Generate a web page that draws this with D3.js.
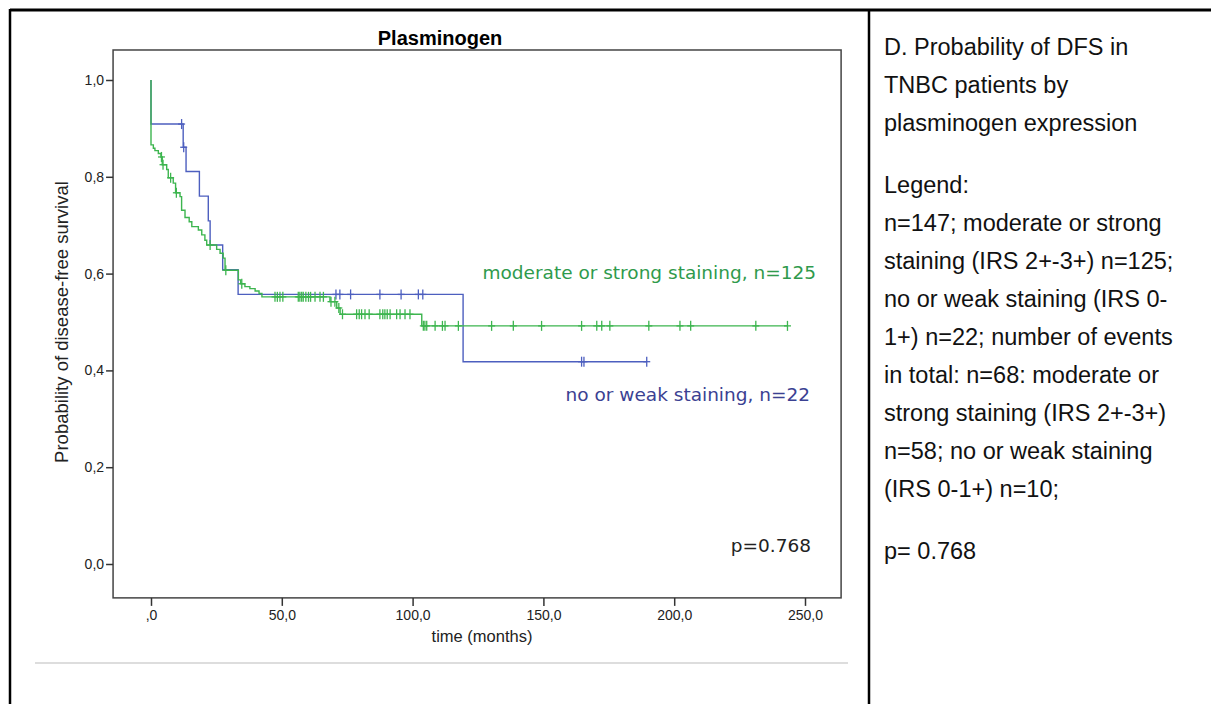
<!DOCTYPE html>
<head>
<meta charset="utf-8">
<title>Plasminogen</title>
<style>
  body { margin: 0; background: #fff; }
  svg { display: block; }
  .tick text { font-family: "Liberation Sans Narrow", "Arial Narrow", "Liberation Sans", sans-serif; font-size: 14px; fill: #222; }
</style>
</head>
<body>
<script src="https://cdnjs.cloudflare.com/ajax/libs/d3/7.8.5/d3.min.js"></script>
<script>
    // survival steps: [time (months), survival after the step]
    var greenSteps = [
        [0, 0.866], [0.9, 0.859], [1.5, 0.854], [2.8, 0.848], [3.8, 0.841], [4.3, 0.825],
        [6.0, 0.815], [6.6, 0.798], [8.5, 0.787], [9.4, 0.767], [11.1, 0.759], [11.7, 0.731],
        [13.0, 0.716], [14.6, 0.707], [15.6, 0.697], [18.1, 0.690], [19.4, 0.680], [20.6, 0.669],
        [21.3, 0.659], [25.1, 0.650], [26.4, 0.642], [27.6, 0.632], [28.3, 0.607], [33.4, 0.587],
        [34.3, 0.579], [35.9, 0.573], [37.8, 0.569], [39.8, 0.564], [41.3, 0.559], [42.4, 0.552],
        [68.4, 0.542], [71.0, 0.529], [72.3, 0.516], [103.5, 0.492]
    ];
    var greenCensored = [
        4.0, 4.6, 7.5, 9.7, 22.6, 28.6, 34.7, 47.4, 48.3, 49.3, 50.4, 56.3, 56.9, 57.6, 58.2,
        59.2, 60.2, 61.0, 62.7, 64.6, 65.9, 68.8, 70.3, 71.8, 73.2, 78.6, 79.6, 80.5, 81.8, 83.4,
        87.5, 88.6, 89.4, 90.3, 91.4, 93.9, 95.2, 97.1, 99.0, 104.1, 104.7, 105.4, 108.6, 111.4,
        112.4, 117.5, 130.2, 138.5, 149.3, 164.6, 170.4, 172.3, 175.4, 190.3, 202.2, 206.3,
        231.2, 243.3
    ];
    var greenEnd = 243.5;

    var blueSteps = [
        [0, 0.909], [12.3, 0.861], [13.4, 0.811], [18.5, 0.760], [21.9, 0.709],
        [22.6, 0.659], [27.4, 0.608], [33.3, 0.557], [119.3, 0.418]
    ];
    var blueCensored = [11.7, 12.5, 70.7, 72.2, 76.3, 87.5, 95.6, 102.2, 103.9, 164.6, 165.5, 189.5];
    var blueEnd = 189.5;

    var xTicks = [0, 50, 100, 150, 200, 250];
    var xTickLabels = [",0", "50,0", "100,0", "150,0", "200,0", "250,0"];
    var yTicks = [0, 0.2, 0.4, 0.6, 0.8, 1.0];
    var yTickLabels = ["0,0", "0,2", "0,4", "0,6", "0,8", "1,0"];

    var noteLines = [
        ["D. Probability of DFS in", "TNBC patients by", "plasminogen expression"],
        ["Legend:", "n=147; moderate or strong", "staining (IRS 2+-3+) n=125;",
         "no or weak staining (IRS 0-", "1+) n=22; number of events",
         "in total: n=68: moderate or", "strong staining (IRS 2+-3+)",
         "n=58; no or weak staining", "(IRS 0-1+) n=10;"],
        ["p= 0.768"]
    ];

    var W = 1211, H = 704;
    var green = "#3db54f", blue = "#4d5fbf";

    var svg = d3.select("body").append("svg")
        .attr("width", W)
        .attr("height", H);

    svg.append("rect").attr("width", W).attr("height", H).attr("fill", "#fff");

    // table borders
    svg.append("line").attr("x1", 10).attr("x2", W).attr("y1", 10).attr("y2", 10)
        .attr("stroke", "#000").attr("stroke-width", 3);
    svg.append("line").attr("x1", 10).attr("x2", 10).attr("y1", 9).attr("y2", H)
        .attr("stroke", "#000").attr("stroke-width", 2.5);
    svg.append("line").attr("x1", 869).attr("x2", 869).attr("y1", 9).attr("y2", H)
        .attr("stroke", "#000").attr("stroke-width", 2.5);
    svg.append("line").attr("x1", 35).attr("x2", 848).attr("y1", 663).attr("y2", 663)
        .attr("stroke", "#ddd").attr("stroke-width", 2);

    var x = d3.scaleLinear().domain([0, 250]).range([151, 805]);
    var y = d3.scaleLinear().domain([0, 1]).range([564, 80]);

    var frame = {left: x(-14.5), right: x(263.8), top: y(1.062), bottom: y(-0.07)};

    svg.append("rect")
        .attr("x", frame.left).attr("y", frame.top)
        .attr("width", frame.right - frame.left)
        .attr("height", frame.bottom - frame.top)
        .attr("fill", "none")
        .attr("stroke", "#444")
        .attr("stroke-width", 1.5);

    svg.append("text")
        .attr("x", 440)
        .attr("y", 45)
        .attr("text-anchor", "middle")
        .style("font-family", "Liberation Sans, Arial, sans-serif")
        .style("font-weight", "bold")
        .style("font-size", "20px")
        .text("Plasminogen");

    var xAxis = d3.axisBottom(x)
        .tickValues(xTicks)
        .tickFormat(function(d, i) { return xTickLabels[i]; })
        .tickSize(8)
        .tickPadding(4);

    var yAxis = d3.axisLeft(y)
        .tickValues(yTicks)
        .tickFormat(function(d, i) { return yTickLabels[i]; })
        .tickSize(7)
        .tickPadding(2);

    var gx = svg.append("g")
        .attr("transform", "translate(0," + frame.bottom + ")")
        .call(xAxis);
    gx.select(".domain").remove();
    gx.selectAll(".tick line").attr("stroke", "#333").attr("stroke-width", 1.5);

    var gy = svg.append("g")
        .attr("transform", "translate(" + frame.left + ",0)")
        .call(yAxis);
    gy.select(".domain").remove();
    gy.selectAll(".tick line").attr("stroke", "#333").attr("stroke-width", 1.5);

    svg.append("text")
        .attr("x", 482)
        .attr("y", 642)
        .attr("text-anchor", "middle")
        .style("font-family", "Liberation Sans, Arial, sans-serif")
        .style("font-size", "16.5px")
        .attr("fill", "#222")
        .text("time (months)");

    svg.append("text")
        .attr("transform", "translate(68,322) rotate(-90)")
        .attr("text-anchor", "middle")
        .style("font-family", "Liberation Sans, Arial, sans-serif")
        .style("font-size", "18.5px")
        .attr("fill", "#222")
        .text("Probability of disease-free survival");

    function stepPoints(steps, end) {
        var pts = [[0, 1]];
        steps.forEach(function(s) { pts.push(s); });
        pts.push([end, steps[steps.length - 1][1]]);
        return pts;
    }
    function survivalAt(steps, t) {
        var v = 1;
        steps.forEach(function(s) { if (s[0] <= t) v = s[1]; });
        return v;
    }

    var line = d3.line()
        .curve(d3.curveStepAfter)
        .x(function(d) { return x(d[0]); })
        .y(function(d) { return y(d[1]); });

    var groups = [
        {steps: blueSteps, censored: blueCensored, end: blueEnd, color: blue},
        {steps: greenSteps, censored: greenCensored, end: greenEnd, color: green}
    ];

    groups.forEach(function(g) {
        svg.append("path")
            .datum(stepPoints(g.steps, g.end))
            .attr("d", line)
            .attr("fill", "none")
            .attr("stroke", g.color)
            .attr("stroke-width", 1.4);

        var marks = svg.append("g").selectAll("g")
            .data(g.censored)
            .enter().append("g")
            .attr("transform", function(t) {
                return "translate(" + x(t) + "," + y(survivalAt(g.steps, t)) + ")";
            });
        marks.append("line").attr("y1", -5).attr("y2", 5)
            .attr("stroke", g.color).attr("stroke-width", 1.3);
        marks.append("line").attr("x1", -3.5).attr("x2", 3.5)
            .attr("stroke", g.color).attr("stroke-width", 1.3);
    });

    var labelFont = "DejaVu Sans, Verdana, sans-serif";
    svg.append("text")
        .attr("x", 816).attr("y", 279)
        .attr("text-anchor", "end")
        .style("font-family", labelFont).style("font-size", "18.5px")
        .attr("fill", "#2f9a4c")
        .text("moderate or strong staining, n=125");
    svg.append("text")
        .attr("x", 810).attr("y", 401)
        .attr("text-anchor", "end")
        .style("font-family", labelFont).style("font-size", "18.5px")
        .attr("fill", "#3b4192")
        .text("no or weak staining, n=22");
    svg.append("text")
        .attr("x", 811).attr("y", 552)
        .attr("text-anchor", "end")
        .style("font-family", labelFont).style("font-size", "18.5px")
        .attr("fill", "#222")
        .text("p=0.768");

    // right-hand description column
    var notes = svg.append("g").attr("transform", "translate(884,0)");
    var baseline = 55, pitch = 38;
    noteLines.forEach(function(par, pi) {
        if (pi > 0) baseline += 24;
        par.forEach(function(txt) {
            notes.append("text")
                .attr("x", 0).attr("y", baseline)
                .style("font-family", "Liberation Sans, Arial, sans-serif")
                .style("font-size", "23.5px")
                .attr("fill", "#111")
                .text(txt);
            baseline += pitch;
        });
    });
</script>
</body>
